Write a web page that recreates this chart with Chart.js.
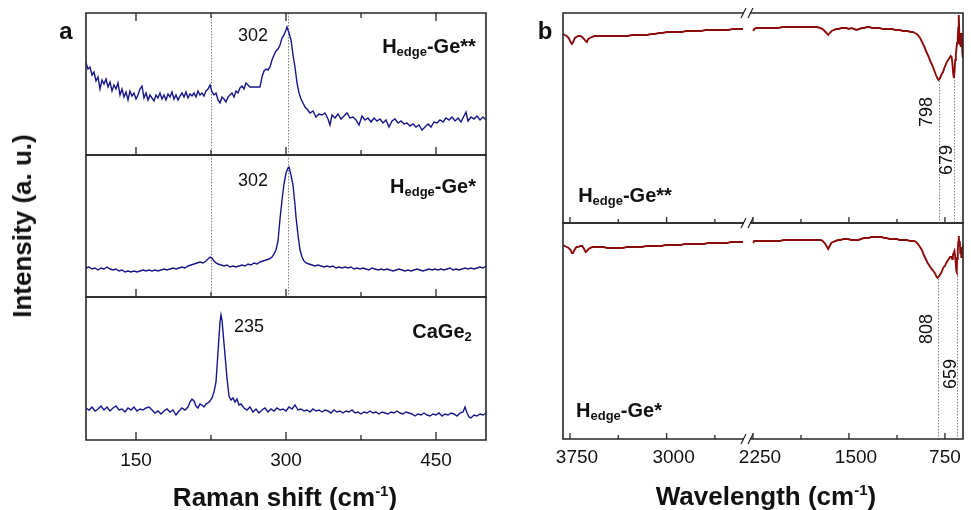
<!DOCTYPE html>
<html>
<head>
<meta charset="utf-8">
<script src="https://cdn.jsdelivr.net/npm/chart.js@4.4.1/dist/chart.umd.min.js"></script>
<style>
  body { margin: 0; background: #fff; }
  #wrap { position: relative; width: 971px; height: 510px; overflow: hidden; font-family: "Liberation Sans", Arial, sans-serif; color: #111; }
  #wrap canvas { position: absolute; left: 0; top: 0; }
  .t { position: absolute; transform: translate(-50%, -50%); white-space: nowrap; line-height: 1; }
  .rot { transform: translate(-50%, -50%) rotate(-90deg); }
  .panel { font-size: 24px; font-weight: bold; }
  .lbl { font-size: 20px; font-weight: bold; }
  .lbl sub { font-size: 13px; vertical-align: baseline; position: relative; top: 0.25em; }
  .ax { font-size: 26px; font-weight: bold; }
  .ax sup { font-size: 15px; vertical-align: baseline; position: relative; top: -0.7em; }
  .num { font-size: 18px; }
</style>
</head>
<body>
<div id="wrap">
  <canvas id="a1" width="971" height="510"></canvas>
  <canvas id="a2" width="971" height="510"></canvas>
  <canvas id="a3" width="971" height="510"></canvas>
  <canvas id="b1l" width="971" height="510"></canvas>
  <canvas id="b1r" width="971" height="510"></canvas>
  <canvas id="b2l" width="971" height="510"></canvas>
  <canvas id="b2r" width="971" height="510"></canvas>

  <div class="t panel" style="left:66px;top:31px">a</div>
  <div class="t panel" style="left:545px;top:31px">b</div>

  <div class="t ax rot" style="left:22px;top:226px">Intensity (a. u.)</div>
  <div class="t ax" style="left:285px;top:497px">Raman shift (cm<sup>-1</sup>)</div>
  <div class="t ax" style="left:766px;top:496px">Wavelength (cm<sup>-1</sup>)</div>

  <div class="t lbl" style="left:429px;top:46px">H<sub>edge</sub>-Ge**</div>
  <div class="t lbl" style="left:433px;top:186px">H<sub>edge</sub>-Ge*</div>
  <div class="t lbl" style="left:442px;top:331px">CaGe<sub>2</sub></div>
  <div class="t lbl" style="left:625px;top:195px">H<sub>edge</sub>-Ge**</div>
  <div class="t lbl" style="left:619px;top:410px">H<sub>edge</sub>-Ge*</div>

  <div class="t num" style="left:253px;top:35px">302</div>
  <div class="t num" style="left:253px;top:180px">302</div>
  <div class="t num" style="left:249px;top:326px">235</div>
  <div class="t num rot" style="left:926px;top:112px">798</div>
  <div class="t num rot" style="left:946px;top:160px">679</div>
  <div class="t num rot" style="left:926px;top:329px">808</div>
  <div class="t num rot" style="left:950px;top:374px">659</div>
</div>

<script>
// ---- data: [wavenumber, intensity (a.u.)] ----
const ramanHedgeGe2 = [[100,92],[102,86],[104,88],[106,80],[108,83],[110,74],[112,78],[114,66],[116,75],[118,71],[120,76],[122,68],[124,73],[126,64],[128,70],[130,66],[132,72],[134,60],[136,66],[138,58],[140,63],[142,55],[144,64],[146,59],[148,62],[150,56],[152,60],[154,66],[156,69],[158,57],[160,62],[162,55],[164,60],[166,57],[168,54],[170,60],[172,57],[174,62],[176,56],[178,60],[180,55],[182,61],[184,58],[186,63],[188,56],[190,60],[192,55],[194,59],[196,62],[198,58],[200,63],[202,57],[204,61],[206,59],[208,62],[210,58],[212,64],[214,60],[216,62],[218,59],[220,64],[222,66],[224,70],[226,63],[228,60],[230,62],[232,55],[234,52],[236,58],[238,56],[240,53],[242,58],[244,60],[246,62],[248,58],[250,64],[252,62],[254,67],[256,69],[258,66],[260,72],[262,70],[264,68],[274,68],[276,78],[278,84],[280,86],[282,85],[284,88],[286,95],[288,100],[290,104],[292,106],[294,110],[296,117],[298,120],[300,125],[301,128],[303,122],[305,115],[307,100],[309,88],[311,72],[313,62],[315,56],[317,52],[319,48],[321,46],[324,42],[327,44],[330,38],[333,41],[336,40],[339,42],[342,36],[344,30],[346,40],[349,37],[352,41],[355,36],[358,39],[361,42],[364,37],[367,38],[370,35],[373,30],[376,39],[379,35],[382,37],[385,33],[388,37],[391,34],[394,36],[397,32],[400,35],[403,28],[406,34],[409,36],[412,32],[415,34],[418,31],[421,32],[424,29],[427,31],[430,28],[433,30],[436,25],[439,28],[442,31],[445,28],[448,33],[451,32],[454,35],[457,33],[460,37],[463,35],[466,38],[469,34],[472,37],[475,33],[478,39],[480,43],[482,34],[485,38],[488,36],[491,39],[494,35],[497,38],[500,35]];

const ramanHedgeGe1 = [[100,29],[103,30],[106,28],[109,29],[112,27],[115,29],[118,28],[121,30],[124,28],[127,27],[130,28],[133,26],[136,27],[139,25],[142,26],[145,25],[148,26],[151,25],[154,26],[157,27],[160,26],[163,27],[166,26],[169,27],[172,26],[175,27],[178,28],[181,27],[184,28],[187,29],[190,28],[193,29],[196,30],[199,29],[202,31],[205,32],[208,33],[211,34],[214,35],[217,34],[220,36],[222,38],[224,40],[226,39],[228,36],[230,34],[232,33],[235,32],[238,31],[241,32],[244,30],[247,31],[250,30],[253,31],[256,32],[259,31],[262,33],[265,32],[268,34],[271,33],[274,35],[277,36],[280,37],[283,38],[286,40],[288,43],[290,47],[292,56],[294,78],[296,97],[298,113],[300,124],[302,129],[303,130],[305,122],[307,112],[309,92],[310,80],[312,62],[314,47],[316,40],[318,36],[320,34],[323,33],[326,32],[329,31],[332,32],[335,31],[338,30],[341,31],[344,30],[347,31],[350,29],[353,30],[356,29],[359,30],[362,29],[365,30],[368,28],[371,29],[374,28],[377,29],[380,28],[383,27],[386,29],[389,28],[392,27],[395,28],[398,27],[401,28],[404,27],[407,26],[410,27],[413,28],[416,27],[419,26],[422,27],[425,26],[428,27],[431,28],[434,27],[437,26],[440,27],[443,28],[446,27],[449,28],[452,27],[455,28],[458,27],[461,28],[464,29],[467,27],[470,28],[473,27],[476,28],[479,29],[482,28],[485,29],[488,28],[491,29],[494,30],[497,29],[500,31]];

const ramanCaGe2 = [[100,32],[103,30],[106,33],[109,29],[112,31],[115,34],[118,30],[121,33],[124,29],[127,32],[130,34],[133,30],[136,31],[139,28],[142,32],[145,30],[148,33],[151,29],[154,31],[157,30],[160,32],[163,33],[166,30],[169,27],[172,29],[175,26],[178,29],[181,31],[184,28],[187,30],[190,25],[193,29],[196,32],[199,30],[202,33],[204,38],[206,41],[208,39],[210,34],[212,32],[214,36],[216,35],[218,33],[220,36],[222,37],[224,39],[226,42],[228,48],[230,58],[232,88],[234,118],[235,125],[236,120],[237,108],[239,85],[241,62],[243,44],[245,40],[247,42],[249,38],[251,41],[253,35],[255,36],[258,32],[261,30],[264,33],[267,28],[270,31],[273,27],[276,30],[279,32],[282,28],[285,31],[288,29],[291,32],[294,30],[297,31],[300,29],[303,33],[306,31],[309,35],[312,30],[315,31],[318,29],[321,30],[324,28],[327,31],[330,29],[333,30],[336,28],[339,30],[342,29],[345,27],[348,30],[351,28],[354,29],[357,27],[360,29],[363,28],[366,30],[369,27],[372,28],[375,26],[378,28],[381,27],[384,29],[387,27],[390,28],[393,26],[396,28],[399,27],[402,26],[405,28],[408,27],[411,29],[414,27],[417,26],[420,28],[423,27],[426,26],[429,24],[432,26],[435,25],[438,27],[441,25],[444,24],[447,26],[450,25],[453,27],[456,24],[459,26],[462,25],[465,27],[468,26],[471,24],[474,27],[477,28],[479,33],[481,27],[483,23],[485,22],[488,25],[491,24],[494,26],[497,25],[500,27]];

const irHedgeGe2High = [[3804,189],[3790,188],[3775,187],[3760,185],[3745,181],[3735,179],[3725,181],[3712,185],[3700,186],[3685,187],[3670,187],[3655,186],[3640,184],[3628,182],[3618,181],[3608,184],[3595,185],[3580,186],[3560,187],[3540,187],[3510,187],[3480,187],[3450,187],[3420,187],[3390,187],[3360,187],[3330,187],[3300,187],[3270,188],[3240,188],[3210,188],[3180,188],[3150,188],[3120,189],[3090,189],[3060,190],[3030,190],[3000,191],[2970,191],[2940,191],[2910,191],[2880,191],[2850,192],[2820,192],[2790,192],[2760,192],[2730,192],[2700,193],[2670,193],[2640,193],[2610,193],[2580,193],[2550,193],[2520,193],[2490,194],[2460,194],[2430,194],[2407,194]];
const irHedgeGe2Low = [[2248,192],[2240,194],[2225,195],[2200,195],[2170,195],[2140,195],[2110,195],[2080,195],[2050,195],[2020,196],[1990,196],[1960,196],[1930,196],[1900,196],[1870,196],[1840,196],[1810,196],[1780,196],[1750,196],[1725,195],[1705,194],[1690,192],[1675,190],[1662,188],[1650,190],[1635,192],[1620,193],[1600,194],[1580,194],[1560,195],[1540,195],[1520,195],[1500,194],[1480,195],[1460,194],[1440,193],[1420,194],[1400,195],[1380,195],[1360,196],[1340,196],[1320,195],[1300,195],[1280,195],[1260,195],[1240,194],[1220,194],[1200,194],[1180,194],[1160,194],[1140,193],[1120,193],[1100,193],[1080,192],[1060,192],[1040,192],[1020,191],[1000,191],[985,190],[970,189],[955,187],[940,184],[925,180],[910,176],[895,171],[880,167],[865,162],[850,158],[835,153],[820,148],[810,145],[800,143],[792,144],[785,146],[775,149],[765,151],[755,155],[745,158],[735,161],[725,163],[715,165],[705,167],[698,166],[692,160],[686,150],[680,145],[675,152],[670,163],[665,168],[660,175],[655,180],[650,186],[646,195],[642,208],[638,190],[634,178],[630,184],[626,176],[622,190],[618,186],[614,170],[610,165]];

const irHedgeGe1High = [[3804,194],[3790,193],[3775,192],[3760,191],[3745,189],[3735,186],[3727,186],[3715,189],[3700,192],[3688,192],[3670,193],[3655,193],[3640,190],[3628,187],[3618,188],[3605,190],[3595,191],[3575,192],[3550,192],[3520,192],[3490,192],[3460,191],[3430,191],[3400,191],[3370,191],[3340,191],[3310,192],[3280,192],[3250,192],[3220,192],[3190,192],[3160,193],[3130,193],[3100,193],[3070,193],[3040,193],[3010,194],[2980,194],[2950,194],[2920,194],[2890,194],[2860,195],[2830,195],[2800,195],[2770,195],[2740,195],[2710,195],[2680,196],[2650,196],[2620,196],[2590,196],[2560,196],[2530,196],[2500,197],[2470,197],[2440,197],[2407,197]];
const irHedgeGe1Low = [[2248,196],[2240,198],[2220,198],[2190,198],[2160,198],[2130,198],[2100,198],[2070,198],[2040,198],[2010,199],[1980,199],[1950,199],[1920,199],[1890,199],[1860,199],[1830,199],[1800,199],[1770,199],[1745,199],[1720,199],[1705,198],[1690,196],[1675,193],[1662,190],[1650,193],[1638,196],[1625,197],[1605,198],[1585,199],[1565,199],[1545,200],[1525,200],[1505,200],[1485,199],[1465,199],[1445,199],[1425,199],[1405,200],[1385,201],[1365,201],[1345,201],[1325,202],[1305,202],[1285,202],[1265,202],[1245,202],[1225,201],[1205,201],[1185,200],[1165,200],[1145,200],[1125,200],[1105,199],[1085,199],[1065,199],[1045,199],[1025,198],[1005,198],[990,198],[975,197],[960,195],[945,192],[930,189],[915,184],[900,180],[885,176],[870,173],[855,170],[840,168],[825,165],[815,162],[808,161],[800,162],[790,164],[780,166],[770,169],[760,172],[750,173],[740,176],[730,178],[720,180],[710,182],[700,182],[694,180],[688,184],[682,186],[676,188],[670,182],[665,175],[661,168],[658,167],[655,180],[650,189],[646,197],[642,203],[638,195],[634,198],[630,186],[626,192],[622,182],[618,186],[614,190],[610,194]];

// axis ticks
const ramanMajor = [150, 300, 450];
const ramanMinor = [225, 375];
const irMajorHigh = [3750, 3000];
const irMinorHigh = [3375, 2625];
const irMajorLow = [2250, 1500, 750];
const irMinorLow = [1875, 1125];

// dotted peak markers: [position, intensity where the line starts (null = full height)]
const ramanMarks = [[225, null], [302, null]];
const irMarksGe2 = [[798, 142], [679, 146]];
const irMarksGe1 = [[808, 160], [659, 166]];

const W = 971, H = 510;
const BLUE = '#16168a';
const RED = '#8c0b0b';

const framePlugin = {
  id: 'frame',
  beforeDatasetsDraw(chart, args, o) {
    const { ctx, chartArea: a, scales: { x, y } } = chart;
    ctx.save();
    ctx.strokeStyle = '#808080';
    ctx.lineWidth = 1;
    ctx.setLineDash([1.5, 1.5]);
    (o.marks || []).forEach(m => {
      const px = Math.round(x.getPixelForValue(m[0])) + 0.5;
      const top = m[1] == null ? a.top : y.getPixelForValue(m[1]);
      ctx.beginPath();
      ctx.moveTo(px, top);
      ctx.lineTo(px, a.bottom);
      ctx.stroke();
    });
    ctx.restore();
  },
  afterDatasetsDraw(chart, args, o) {
    const { ctx, chartArea: a, scales: { x } } = chart;
    ctx.save();
    ctx.strokeStyle = '#262626';
    ctx.lineWidth = 1.6;
    const sides = o.sides || 'tlbr';
    ctx.beginPath();
    if (sides.includes('t')) { ctx.moveTo(a.left, a.top); ctx.lineTo(a.right, a.top); }
    if (sides.includes('b')) { ctx.moveTo(a.left, a.bottom); ctx.lineTo(a.right, a.bottom); }
    if (sides.includes('l')) { ctx.moveTo(a.left, a.top - 0.8); ctx.lineTo(a.left, a.bottom + 0.8); }
    if (sides.includes('r')) { ctx.moveTo(a.right, a.top - 0.8); ctx.lineTo(a.right, a.bottom + 0.8); }
    ctx.stroke();

    // inward ticks
    ctx.lineWidth = 1.3;
    const drawTicks = (vals, len) => vals.forEach(v => {
      const px = x.getPixelForValue(v);
      ctx.beginPath();
      if (o.tickBottom) { ctx.moveTo(px, a.bottom); ctx.lineTo(px, a.bottom - len); }
      if (o.tickTop) { ctx.moveTo(px, a.top); ctx.lineTo(px, a.top + len); }
      ctx.stroke();
    });
    drawTicks(o.major || [], o.majorLen || 6);
    drawTicks(o.minor || [], o.minorLen || 4);

    // tick labels
    if (o.labels) {
      ctx.fillStyle = '#111';
      ctx.font = '19px "Liberation Sans", Arial, sans-serif';
      ctx.textAlign = 'center';
      ctx.textBaseline = 'alphabetic';
      o.labels.forEach((v, i) => {
        const dx = o.labelDx ? o.labelDx[i] : 0;
        ctx.fillText(String(v), x.getPixelForValue(v) + dx, o.labelY);
      });
    }

    // axis break marks "//"
    (o.breaks || []).forEach(side => {
      const yy = side === 'top' ? a.top : a.bottom;
      ctx.strokeStyle = '#262626';
      ctx.lineWidth = 1.2;
      ctx.beginPath();
      ctx.moveTo(a.left - 9, yy + 5); ctx.lineTo(a.left - 4, yy - 5);
      ctx.moveTo(a.left - 2, yy + 5); ctx.lineTo(a.left + 3, yy - 5);
      ctx.stroke();
    });
    ctx.restore();
  }
};

function makeChart(id, box, xRange, yMax, series, color, width, frame) {
  return new Chart(document.getElementById(id), {
    type: 'scatter',
    data: {
      datasets: [{
        data: series.map(p => ({ x: p[0], y: p[1] })),
        showLine: true,
        borderColor: color,
        borderWidth: width,
        pointRadius: 0,
        tension: 0
      }]
    },
    options: {
      responsive: false,
      animation: false,
      events: [],
      layout: { padding: { left: box[0], top: box[1], right: W - box[2], bottom: H - box[3] } },
      scales: {
        x: { type: 'linear', display: false, min: xRange[0], max: xRange[1], reverse: !!frame.reverse },
        y: { type: 'linear', display: false, min: 0, max: yMax }
      },
      plugins: { legend: { display: false }, tooltip: { enabled: false }, frame: frame }
    },
    plugins: [framePlugin]
  });
}

// panel a: three stacked Raman spectra
makeChart('a1', [86, 13, 486, 155], [100, 500], 142, ramanHedgeGe2, BLUE, 1.4,
  { major: ramanMajor, minor: ramanMinor, majorLen: 8, minorLen: 5, tickTop: true, tickBottom: true, marks: ramanMarks });
makeChart('a2', [86, 155, 486, 297], [100, 500], 142, ramanHedgeGe1, BLUE, 1.4,
  { major: ramanMajor, minor: ramanMinor, majorLen: 8, minorLen: 5, tickBottom: true, marks: ramanMarks });
makeChart('a3', [86, 297, 486, 440], [100, 500], 143, ramanCaGe2, BLUE, 1.4,
  { major: ramanMajor, minor: ramanMinor, majorLen: 8, minorLen: 5, tickBottom: true, labels: ramanMajor, labelY: 466 });

// panel b: two stacked IR spectra with a broken, reversed axis
const highRange = [2399, 3804];
const lowRange = [609, 2273];
makeChart('b1l', [563, 13, 744, 223], highRange, 210, irHedgeGe2High, RED, 1.9,
  { reverse: true, sides: 'tlb', major: irMajorHigh, minor: irMinorHigh, majorLen: 6, minorLen: 4, tickBottom: true });
makeChart('b1r', [750, 13, 963, 223], lowRange, 210, irHedgeGe2Low, RED, 1.9,
  { reverse: true, sides: 'trb', major: irMajorLow, minor: irMinorLow, majorLen: 6, minorLen: 4, tickBottom: true, marks: irMarksGe2, breaks: ['top', 'bottom'] });
makeChart('b2l', [563, 223, 744, 439], highRange, 216, irHedgeGe1High, RED, 1.9,
  { reverse: true, sides: 'tlb', major: irMajorHigh, minor: irMinorHigh, majorLen: 6, minorLen: 4, tickBottom: true, labels: irMajorHigh, labelDx: [7, 7], labelY: 463 });
makeChart('b2r', [750, 223, 963, 439], lowRange, 216, irHedgeGe1Low, RED, 1.9,
  { reverse: true, sides: 'trb', major: irMajorLow, minor: irMinorLow, majorLen: 6, minorLen: 4, tickBottom: true, marks: irMarksGe1, breaks: ['bottom'], labels: irMajorLow, labelDx: [7, 7, 0], labelY: 463 });
</script>
</body>
</html>
